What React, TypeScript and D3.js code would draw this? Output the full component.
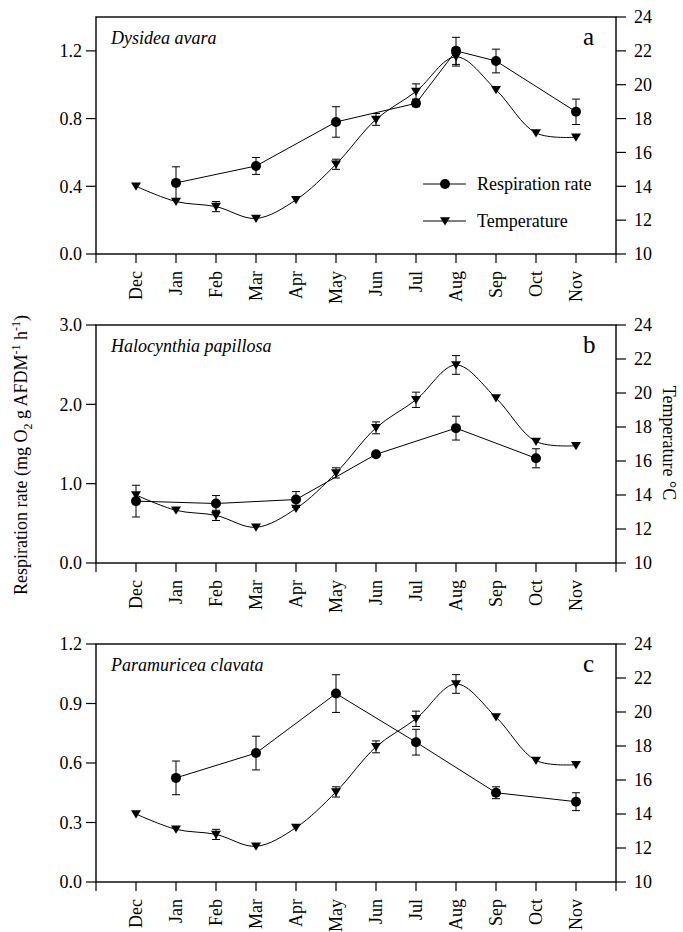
import * as d3 from "d3";

const months = ["Dec", "Jan", "Feb", "Mar", "Apr", "May", "Jun", "Jul", "Aug", "Sep", "Oct", "Nov"];

// water temperature (°C) and its error, same for all three panels
const temperature = [14.0, 13.1, 12.8, 12.1, 13.2, 15.3, 17.95, 19.6, 21.65, 19.7, 17.15, 16.9];
const temperatureErr = [0.1, 0.1, 0.3, 0.1, 0.1, 0.3, 0.35, 0.45, 0.55, 0.15, 0.1, 0.1];

// respiration rate (mg O2 g AFDM-1 h-1), null = not measured
const respDysidea = [null, 0.42, null, 0.52, null, 0.78, null, 0.89, 1.2, 1.14, null, 0.84];
const errDysidea = [null, 0.095, null, 0.05, null, 0.09, null, 0.02, 0.08, 0.07, null, 0.075];

const respHalocynthia = [0.78, null, 0.75, null, 0.8, null, 1.37, null, 1.7, null, 1.32, null];
const errHalocynthia = [0.2, null, 0.1, null, 0.1, null, 0.03, null, 0.15, null, 0.12, null];

const respParamuricea = [null, 0.525, null, 0.65, null, 0.95, null, 0.705, null, 0.45, null, 0.405];
const errParamuricea = [null, 0.085, null, 0.085, null, 0.095, null, 0.065, null, 0.03, null, 0.045];

const respTicksA = [0, 0.4, 0.8, 1.2];
const respTicksB = [0, 1, 2, 3];
const respTicksC = [0, 0.3, 0.6, 0.9, 1.2];
const tempTicks = [10, 12, 14, 16, 18, 20, 22, 24];

const font = "'Liberation Serif', 'DejaVu Serif', serif";

const panels = [
  { top: 17, bottom: 254, max: 1.4, ticks: respTicksA, name: "Dysidea avara", letter: "a", resp: respDysidea, err: errDysidea, legend: true },
  { top: 325, bottom: 563, max: 3.0, ticks: respTicksB, name: "Halocynthia papillosa", letter: "b", resp: respHalocynthia, err: errHalocynthia, legend: false },
  { top: 644, bottom: 882, max: 1.2, ticks: respTicksC, name: "Paramuricea clavata", letter: "c", resp: respParamuricea, err: errParamuricea, legend: false },
];

const xLeft = 96;
const xRight = 616;
const x = d3.scalePoint<string>().domain(months).range([xLeft, xRight]).padding(1);
const fmt = d3.format(".1f");

const tri = (cx: number, cy: number, s = 5) =>
  `M${cx - s},${cy - s * 0.75}L${cx + s},${cy - s * 0.75}L${cx},${cy + s * 0.9}Z`;

const ErrorBar = ({ cx, y0, y1 }: { cx: number; y0: number; y1: number }) => (
  <g stroke="#000" strokeWidth={1}>
    <line x1={cx} x2={cx} y1={y0} y2={y1} />
    <line x1={cx - 4} x2={cx + 4} y1={y0} y2={y0} />
    <line x1={cx - 4} x2={cx + 4} y1={y1} y2={y1} />
  </g>
);

const Panel = ({ p }: { p: (typeof panels)[number] }) => {
  const y = d3.scaleLinear().domain([0, p.max]).range([p.bottom, p.top]);
  const yt = d3.scaleLinear().domain([10, 24]).range([p.bottom, p.top]);

  const tempPts = months.map((m, i) => [x(m)!, yt(temperature[i])] as [number, number]);
  const tempLine = d3.line().curve(d3.curveCatmullRom.alpha(0.5))(tempPts);

  const respPts = months
    .map((m, i) => ({ m, v: p.resp[i], e: p.err[i] }))
    .filter((d) => d.v != null) as { m: string; v: number; e: number }[];
  const respLine = d3
    .line<{ m: string; v: number }>()
    .x((d) => x(d.m)!)
    .y((d) => y(d.v))(respPts);

  const bottomTicks = [xLeft, ...months.map((m) => x(m)!), xRight];

  return (
    <g>
      {/* frame */}
      <rect x={xLeft} y={p.top} width={xRight - xLeft} height={p.bottom - p.top} fill="none" stroke="#000" strokeWidth={1.4} />

      {/* left axis */}
      {p.ticks.map((t) => (
        <g key={"l" + t}>
          <line x1={xLeft - 10} x2={xLeft} y1={y(t)} y2={y(t)} stroke="#000" strokeWidth={1.2} />
          <text x={xLeft - 14} y={y(t)} dy="0.35em" textAnchor="end" fontSize={18}>
            {fmt(t)}
          </text>
        </g>
      ))}

      {/* right axis */}
      {tempTicks.map((t) => (
        <g key={"r" + t}>
          <line x1={xRight} x2={xRight + 10} y1={yt(t)} y2={yt(t)} stroke="#000" strokeWidth={1.2} />
          <text x={xRight + 18} y={yt(t)} dy="0.35em" fontSize={18}>
            {t}
          </text>
        </g>
      ))}

      {/* bottom axis */}
      {bottomTicks.map((tx, i) => (
        <line key={"b" + i} x1={tx} x2={tx} y1={p.bottom} y2={p.bottom + 9} stroke="#000" strokeWidth={1.2} />
      ))}
      {months.map((m) => (
        <text
          key={"m" + m}
          transform={`translate(${x(m)},${p.bottom + 17}) rotate(-90)`}
          dy="0.35em"
          textAnchor="end"
          fontSize={18}
        >
          {m}
        </text>
      ))}

      {/* temperature */}
      <path d={tempLine!} fill="none" stroke="#000" strokeWidth={1} />
      {months.map((m, i) =>
        temperatureErr[i] > 0.15 ? (
          <ErrorBar key={"te" + m} cx={x(m)!} y0={yt(temperature[i] - temperatureErr[i])} y1={yt(temperature[i] + temperatureErr[i])} />
        ) : null
      )}
      {months.map((m, i) => (
        <path key={"tm" + m} d={tri(x(m)!, yt(temperature[i]))} fill="#000" />
      ))}

      {/* respiration */}
      <path d={respLine!} fill="none" stroke="#000" strokeWidth={1} />
      {respPts.map((d) => (
        <ErrorBar key={"re" + d.m} cx={x(d.m)!} y0={y(d.v - d.e)} y1={y(d.v + d.e)} />
      ))}
      {respPts.map((d) => (
        <circle key={"rc" + d.m} cx={x(d.m)} cy={y(d.v)} r={5} fill="#000" />
      ))}

      {/* labels */}
      <text x={111} y={p.top + 27} fontSize={18} fontStyle="italic">
        {p.name}
      </text>
      <text x={583} y={p.top + 28} fontSize={25}>
        {p.letter}
      </text>

      {p.legend && (
        <g>
          <line x1={423} x2={466} y1={p.top + 167} y2={p.top + 167} stroke="#000" strokeWidth={1} />
          <circle cx={445} cy={p.top + 167} r={5} fill="#000" />
          <text x={477} y={p.top + 167} dy="0.35em" fontSize={18}>
            Respiration rate
          </text>
          <line x1={423} x2={466} y1={p.top + 204} y2={p.top + 204} stroke="#000" strokeWidth={1} />
          <path d={tri(445, p.top + 204)} fill="#000" />
          <text x={477} y={p.top + 204} dy="0.35em" fontSize={18}>
            Temperature
          </text>
        </g>
      )}
    </g>
  );
};

export default function App() {
  return (
    <svg
      width={683}
      height={932}
      style={{ position: "absolute", left: 0, top: 0, background: "#fff" }}
      fontFamily={font}
    >
      {panels.map((p) => (
        <Panel key={p.letter} p={p} />
      ))}
      <text transform="translate(27,455) rotate(-90)" textAnchor="middle" fontSize={18}>
        Respiration rate (mg O
        <tspan fontSize={12} dy={5}>2</tspan>
        <tspan dy={-5}> g AFDM</tspan>
        <tspan fontSize={12} dy={-7}>-1</tspan>
        <tspan dy={7}> h</tspan>
        <tspan fontSize={12} dy={-7}>-1</tspan>
        <tspan dy={7}>)</tspan>
      </text>
      <text transform="translate(663,443) rotate(90)" textAnchor="middle" fontSize={18}>
        Temperature °C
      </text>
    </svg>
  );
}
